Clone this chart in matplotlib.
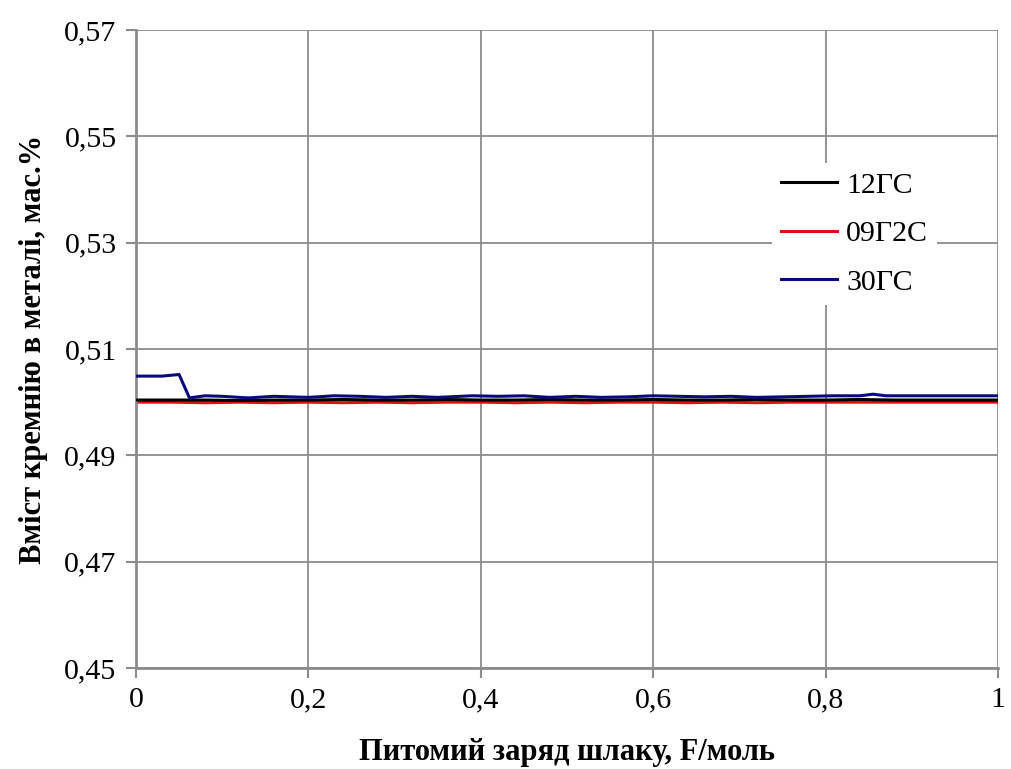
import matplotlib
matplotlib.use("Agg")
import matplotlib.pyplot as plt
import numpy as np

plt.rcParams['font.family'] = ['Liberation Serif', 'DejaVu Serif']

# Data
x_common = [0.00, 0.04, 0.08, 0.12, 0.16, 0.20, 0.24, 0.28, 0.32, 0.36, 0.40, 0.44,
            0.48, 0.52, 0.56, 0.60, 0.64, 0.68, 0.72, 0.76, 0.80, 0.84, 0.88, 0.92, 0.96, 1.00]
y_12gs = [0.5004, 0.5004, 0.5004, 0.5003, 0.5004, 0.5004, 0.5005, 0.5004, 0.5004, 0.5005,
          0.5004, 0.5004, 0.5005, 0.5004, 0.5004, 0.5005, 0.5004, 0.5004, 0.5005, 0.5004,
          0.5004, 0.5005, 0.5004, 0.5004, 0.5004, 0.5004]
y_09g2s = [0.5000, 0.5000, 0.4999, 0.5000, 0.4999, 0.5000, 0.4999, 0.5000, 0.4999, 0.5000,
           0.5000, 0.4999, 0.5000, 0.4999, 0.5000, 0.5000, 0.4999, 0.5000, 0.4999, 0.5000,
           0.5000, 0.5000, 0.5000, 0.5000, 0.5000, 0.5000]
x_30gs = [0.00, 0.03, 0.05, 0.062, 0.08, 0.10, 0.13, 0.16, 0.20, 0.23, 0.26, 0.29, 0.32,
          0.35, 0.39, 0.42, 0.45, 0.48, 0.51, 0.54, 0.57, 0.60, 0.63, 0.66, 0.69, 0.72,
          0.75, 0.78, 0.81, 0.84, 0.855, 0.87, 0.90, 0.95, 1.00]
y_30gs = [0.5049, 0.5049, 0.5052, 0.5008, 0.5012, 0.5011, 0.5008, 0.5011, 0.5009, 0.5012,
          0.5011, 0.5009, 0.5011, 0.5009, 0.5012, 0.5011, 0.5012, 0.5009, 0.5011, 0.5009,
          0.5010, 0.5012, 0.5011, 0.5010, 0.5011, 0.5009, 0.5010, 0.5011, 0.5012, 0.5012,
          0.5015, 0.5012, 0.5012, 0.5012, 0.5012]

x_ticks = [0, 0.2, 0.4, 0.6, 0.8, 1]
x_ticklabels = ['0', '0,2', '0,4', '0,6', '0,8', '1']
y_ticks = [0.45, 0.47, 0.49, 0.51, 0.53, 0.55, 0.57]
y_ticklabels = ['0,45', '0,47', '0,49', '0,51', '0,53', '0,55', '0,57']

fig = plt.figure(figsize=(10.11, 7.69), dpi=100)
ax = fig.add_axes([136/1011, 1 - 668/769, (998-136)/1011, (668-30)/769])

ax.plot(x_common, y_12gs, color='black', lw=2.2, label='12ГС', zorder=3)
ax.plot(x_common, y_09g2s, color='#e01010', lw=2.2, label='09Г2С', zorder=2)
ax.plot(x_30gs, y_30gs, color='#0a0a80', lw=2.2, label='30ГС', zorder=4)

ax.set_xlim(0, 1)
ax.set_ylim(0.45, 0.57)
ax.set_xticks(x_ticks)
ax.set_xticklabels(x_ticklabels)
ax.set_yticks(y_ticks)
ax.set_yticklabels(y_ticklabels)
ax.grid(True, color='#8c8c8c', lw=1.3)
ax.set_axisbelow(True)
for s in ['top', 'right']:
    ax.spines[s].set_visible(False)
for s in ['left', 'bottom']:
    ax.spines[s].set_color('#8c8c8c')
    ax.spines[s].set_linewidth(2)
ax.tick_params(axis='both', direction='out', length=7, width=1.5, color='#8c8c8c',
               labelsize=21.5, pad=7)

ax.set_xlabel('Питомий заряд шлаку, F/моль', fontsize=22, fontweight='bold', labelpad=18)
ax.set_ylabel('Вміст кремнію в металі, мас.%', fontsize=22, fontweight='bold', labelpad=12)

leg = ax.legend(loc='upper left', bbox_to_anchor=(0.72, 0.815), fontsize=21.5,
                frameon=True, fancybox=False, edgecolor='white', framealpha=1,
                handlelength=1.9, handletextpad=0.3, labelspacing=0.72, borderpad=0.3)
leg.get_frame().set_linewidth(0)

fig.savefig('out.png', dpi=100)
